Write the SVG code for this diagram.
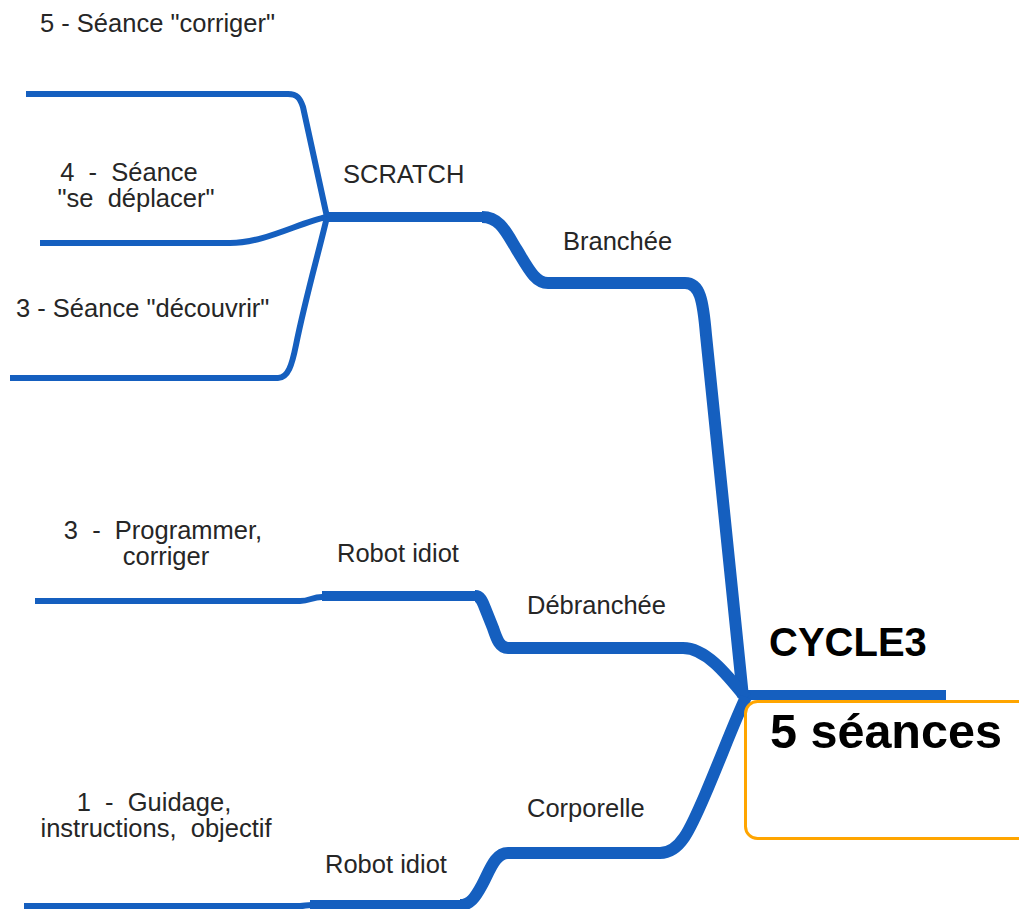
<svg xmlns="http://www.w3.org/2000/svg" width="1019" height="909" viewBox="0 0 1019 909">
<style>
  .c{fill:none;stroke:#155fbf;stroke-linecap:butt;stroke-linejoin:round}
  .l1{stroke-width:12}
  .l2{stroke-width:10}
  .l3{stroke-width:6}
  .t{font-family:"Liberation Sans",Arial,sans-serif;font-size:25.5px;fill:#262626}
  .b{font-family:"Liberation Sans",Arial,sans-serif;font-weight:bold;fill:#000}
</style>
<rect width="1019" height="909" fill="#fff"/>
<g id="connectors">
  <path class="c l2" d="M746,695 H946"/>
  <path class="c l1" d="M743,697 L706,335 C703,300 700,283 685,283 H548 C535,283 528,268 517,250 C506,232 500,217 482,217"/>
  <path class="c l2" d="M482,217 H327"/>
  <path class="c l3" d="M327,217 L303,107 C300,98 297,94 288,94 H26"/>
  <path class="c l3" d="M327,217 C300,222 265,243 230,243 H40"/>
  <path class="c l3" d="M327,217 C318,255 305,300 296,345 C292,365 288,378 278,378 H10"/>
  <path class="c l1" d="M746,698 C725,672 705,648 683,648 H508 C500,648 497,640 493,628 L485,608 C482,600 480,596 475,596"/>
  <path class="c l2" d="M477,596 H322"/>
  <path class="c l3" d="M322,597 C312,597 310,601 300,601 H35"/>
  <path class="c l1" d="M746,697 C735,720 720,760 705,795 C690,830 680,853 660,853 H508 C495,853 490,870 482,885 C475,898 470,905 460,905"/>
  <path class="c l2" d="M462,905 H310"/>
  <path class="c l3" d="M312,905 C306,905 305,906 300,906 H24"/>
</g>
<g id="central">
  <rect x="745.5" y="701.5" width="300" height="137" rx="12" fill="#fff" stroke="#ffa500" stroke-width="3"/>
  <text class="b" x="769" y="656" font-size="40">CYCLE3</text>
  <text class="b" x="770" y="748" font-size="48.5">5 séances</text>
</g>
<g id="branchee"><text class="t" x="563" y="250">Branchée</text></g>
<g id="scratch"><text class="t" x="343" y="183">SCRATCH</text></g>
<g id="seance5"><text class="t" x="40" y="32" xml:space="preserve">5 - Séance "corriger"</text></g>
<g id="seance4"><text class="t" text-anchor="middle" xml:space="preserve"><tspan x="129" y="181">4  -  Séance</tspan><tspan x="136" y="207">"se  déplacer"</tspan></text></g>
<g id="seance3"><text class="t" x="16" y="317" xml:space="preserve">3 - Séance "découvrir"</text></g>
<g id="debranchee"><text class="t" x="527" y="614">Débranchée</text></g>
<g id="robot1"><text class="t" x="337" y="562">Robot idiot</text></g>
<g id="programmer"><text class="t" text-anchor="middle" xml:space="preserve"><tspan x="163" y="539">3  -  Programmer,</tspan><tspan x="166" y="565">corriger</tspan></text></g>
<g id="corporelle"><text class="t" x="527" y="817">Corporelle</text></g>
<g id="robot2"><text class="t" x="325" y="873">Robot idiot</text></g>
<g id="guidage"><text class="t" text-anchor="middle" xml:space="preserve"><tspan x="154" y="811">1  -  Guidage,</tspan><tspan x="156" y="837">instructions,  objectif</tspan></text></g>
</svg>
